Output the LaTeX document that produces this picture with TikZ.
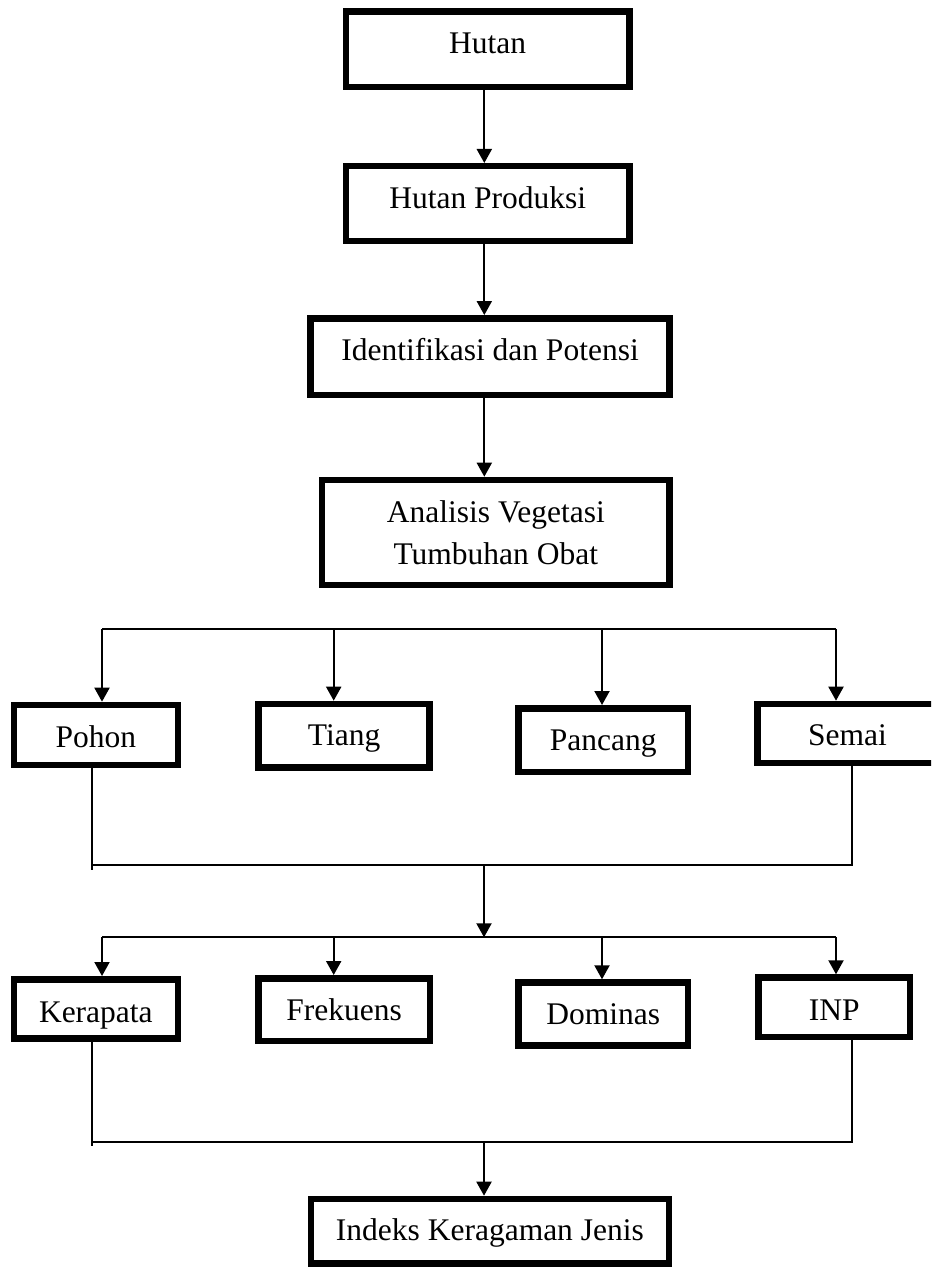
\documentclass[tikz,border=0pt]{standalone}
\usepackage{fontspec}
\setmainfont{Liberation Serif}
\usetikzlibrary{arrows.meta}
\tikzset{
  box/.style={draw, line width=6.5pt, inner sep=0pt, text depth=5pt,
    font=\fontsize{31.5}{41.6}\selectfont},
  ln/.style={line width=2pt},
  arr/.style={line width=2pt, -{Triangle[width=15pt,length=14pt]}},
}
\begin{document}
\begin{tikzpicture}[x=1pt,y=-1pt]
\useasboundingbox (0,0) rectangle (931,1268);
\clip (0,0) rectangle (931,1268);
% main column
\node[box, minimum width=283.5pt, minimum height=75.2pt, text height=13.4pt] (hutan) at (487.7,49.2) {Hutan};
\node[box, minimum width=283.5pt, minimum height=74.5pt, text height=14.8pt] (prod) at (487.7,203.5) {Hutan Produksi};
\node[box, minimum width=358.9pt, minimum height=76.8pt, text height=12.4pt] (ident) at (490,356.7) {Identifikasi dan Potensi\hspace{14pt}};
\node[box, minimum width=347.2pt, minimum height=105.1pt, text depth=, text height=, align=center] (anal) at (495.8,532.5) {Analisis Vegetasi\\Tumbuhan Obat};
% first row
\node[box, minimum width=163.8pt, minimum height=60.1pt, text height=29.8pt] (pohon) at (95.85,735) {Pohon};
\node[box, minimum width=171.1pt, minimum height=63.5pt, text height=25pt] (tiang) at (344.1,735.7) {Tiang};
\node[box, minimum width=169.3pt, minimum height=63.5pt, text height=25.2pt] (pancang) at (603.3,740) {Pancang};
\node[box, minimum width=179.9pt, minimum height=59.1pt, text height=29pt] (semai) at (847.5,733.5) {Semai};
% second row
\node[box, minimum width=163.8pt, minimum height=59.2pt, text height=31.6pt] (kerapata) at (95.85,1008.85) {Kerapata};
\node[box, minimum width=171.2pt, minimum height=62.8pt, text height=27pt] (frek) at (344.15,1009.65) {Frekuens};
\node[box, minimum width=169.3pt, minimum height=62.9pt, text height=25.2pt] (domin) at (603.3,1014) {Dominas\hspace{9pt}};
\node[box, minimum width=151.5pt, minimum height=59.2pt, text height=31.4pt] (inp) at (834.3,1007.15) {INP};
% last
\node[box, minimum width=358.1pt, minimum height=64.5pt, text height=22.8pt] (indeks) at (489.9,1231.2) {Indeks Keragaman Jenis};
% helper coordinates
\coordinate (tr) at (484.3,0);
\coordinate (b1a) at (102,629.3);
\coordinate (b1b) at (333.7,629.3);
\coordinate (b1c) at (602,629.3);
\coordinate (b1d) at (836,629.3);
\coordinate (m1l) at (92,864.5);
\coordinate (m1t) at (92,870);
\coordinate (m1r) at (852,864.5);
\coordinate (m1c) at (484,864.5);
\coordinate (b2c) at (484,937.3);
\coordinate (b2a) at (102,937.3);
\coordinate (b2b) at (333.7,937.3);
\coordinate (b2cc) at (602,937.3);
\coordinate (b2d) at (836,937.3);
\coordinate (m2l) at (92,1142.3);
\coordinate (m2t) at (92,1145.5);
\coordinate (m2r) at (852,1142.3);
\coordinate (m2c) at (484,1142.3);
% trunk arrows
\draw[arr] (tr |- hutan.south) -- (tr |- prod.north);
\draw[arr] (tr |- prod.south) -- (tr |- ident.north);
\draw[arr] (tr |- ident.south) -- (tr |- anal.north);
% branch 1
\draw[ln] (b1a) -- (b1d);
\draw[arr] (b1a) -- (b1a |- pohon.north);
\draw[arr] (b1b) -- (b1b |- tiang.north);
\draw[arr] (b1c) -- (b1c |- pancang.north);
\draw[arr] (b1d) -- (b1d |- semai.north);
% merge 1
\draw[ln] (m1l |- pohon.south) -- (m1t);
\draw[ln] (m1l) -- (m1r) -- (m1r |- semai.south);
\draw[arr] (m1c) -- (b2c);
% branch 2
\draw[ln] (b2a) -- (b2d);
\draw[arr] (b2a) -- (b2a |- kerapata.north);
\draw[arr] (b2b) -- (b2b |- frek.north);
\draw[arr] (b2cc) -- (b2cc |- domin.north);
\draw[arr] (b2d) -- (b2d |- inp.north);
% merge 2
\draw[ln] (m2l |- kerapata.south) -- (m2t);
\draw[ln] (m2l) -- (m2r) -- (m2r |- inp.south);
\draw[arr] (m2c) -- (m2c |- indeks.north);
\end{tikzpicture}
\end{document}
